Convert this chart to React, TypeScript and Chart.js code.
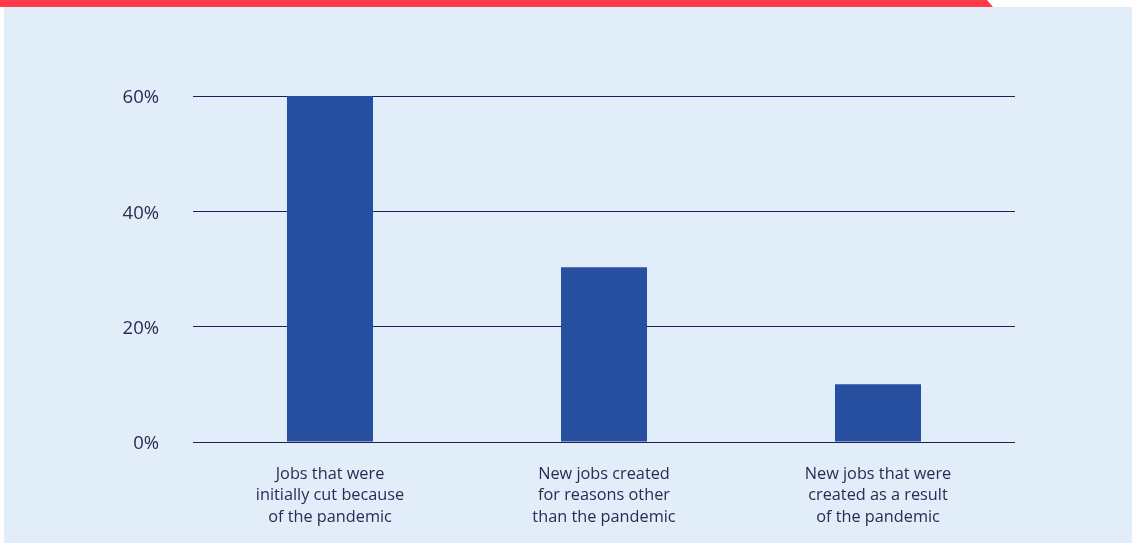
import React, { useEffect, useRef } from "react";
import { Chart, registerables } from "chart.js";

Chart.register(...registerables);

const categories: string[][] = [
  ["Jobs that were", "initially cut because", "of the pandemic"],
  ["New jobs created", "for reasons other", "than the pandemic"],
  ["New jobs that were", "created as a result", "of the pandemic"],
];
const shares: number[] = [60, 30.3, 10];
const yTicks: number[] = [0, 20, 40, 60];

const BAR = "#26509F";
const INK = "#2B2A55";
const GRID = "#1E1F52";
const PANEL = "#E1EDF8";
const ACCENT = "#FF3A4B";

export default function App() {
  const ref = useRef<HTMLCanvasElement | null>(null);

  useEffect(() => {
    document.body.style.margin = "0";
    const ctx = ref.current;
    if (!ctx) return;
    const chart = new Chart(ctx, {
      type: "bar",
      data: {
        labels: categories,
        datasets: [
          {
            data: shares,
            backgroundColor: BAR,
            borderWidth: 0,
            categoryPercentage: 1,
            barPercentage: 0.314,
          },
        ],
      },
      options: {
        animation: false,
        responsive: false,
        maintainAspectRatio: false,
        layout: { padding: { left: 0, right: 117, top: 96, bottom: 0 } },
        plugins: { legend: { display: false }, tooltip: { enabled: false } },
        scales: {
          x: {
            grid: { display: false, drawTicks: false },
            border: { display: false },
            ticks: {
              color: INK,
              padding: 22,
              maxRotation: 0,
              autoSkip: false,
              font: { family: "'Open Sans'", size: 16.3, lineHeight: 1.3 },
            },
            afterFit: (s: any) => {
              s.height = 101;
            },
          },
          y: {
            min: 0,
            max: 60,
            afterBuildTicks: (s: any) => {
              s.ticks = yTicks.map((v) => ({ value: v }));
            },
            grid: { color: GRID, lineWidth: 1, drawTicks: false },
            border: { display: false },
            ticks: {
              color: INK,
              padding: 34,
              labelOffset: 2,
              font: { family: "'Open Sans'", size: 18.5 },
              callback: (v: any) => `${v}%`,
            },
            afterFit: (s: any) => {
              s.width = 193;
            },
          },
        },
      },
    });
    return () => chart.destroy();
  }, []);

  return (
    <div style={{ position: "relative", width: 1132, height: 543, background: "#fff", overflow: "hidden" }}>
      <div
        style={{
          position: "absolute",
          left: 0,
          top: 0,
          width: 993,
          height: 7,
          background: ACCENT,
          clipPath: "polygon(0 0, 987px 0, 993px 100%, 0 100%)",
        }}
      />
      <div style={{ position: "absolute", left: 4, top: 7, width: 1128, height: 536, background: PANEL }} />
      <canvas ref={ref} width={1132} height={543} style={{ position: "absolute", left: 0, top: 0 }} />
    </div>
  );
}
